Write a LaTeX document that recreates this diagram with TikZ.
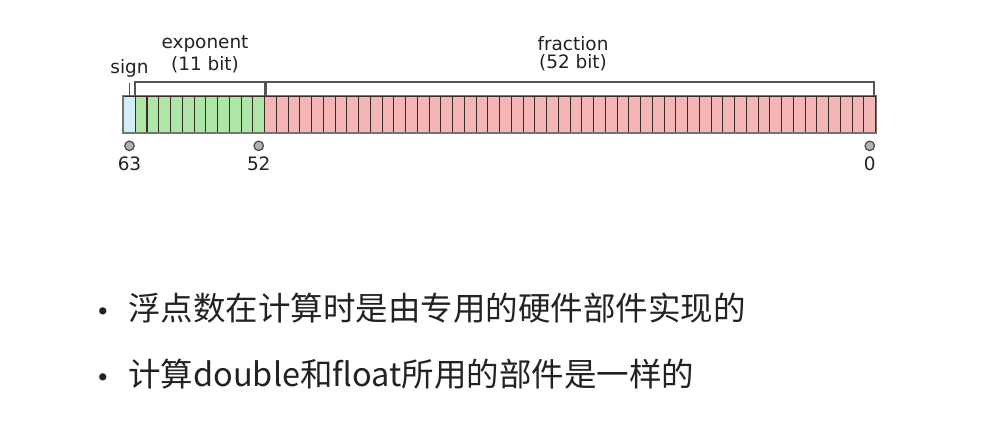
\documentclass[tikz,border=0pt]{standalone}
\usepackage{fontspec}
\setmainfont{DejaVu Sans}
\newfontfamily\cjk{Noto Sans CJK SC}
\usetikzlibrary{positioning,calc}
\definecolor{signblue}{HTML}{D2EEF8}
\definecolor{expgreen}{HTML}{AEE6A6}
\definecolor{fracred}{HTML}{F4B6B4}
\definecolor{cellline}{HTML}{3A2A2A}
\definecolor{bracketgray}{HTML}{555555}
\definecolor{textgray}{HTML}{222222}
\tikzset{
  bitcell/.style = {draw = cellline, line width = .7pt, inner sep = 0,
    minimum width = .235cm, minimum height = .72cm, anchor = south west},
  bitdot/.style = {circle, draw = black!70, fill = black!30, line width = .7pt,
    inner sep = 0, minimum size = .19cm},
  smalllabel/.style = {font = \fontsize{10.5}{12}\selectfont, text = textgray, inner sep = 1pt},
  bracket/.style = {draw = bracketgray, line width = .9pt},
  bulletline/.style = {font = \cjk\fontsize{18.5}{22}\selectfont, text = textgray, anchor = west, inner sep = 0},
  bulletdot/.style = {font = \fontsize{14}{16}\selectfont, text = textgray, anchor = base, inner sep = 0}
}

\begin{document}
\begin{tikzpicture}[x = .02cm, y = .02cm]
    \useasboundingbox (0,0) rectangle (1000,432);
    % bit cells
    \node[bitcell, fill = signblue] (b63) at (123,299) {};
    \foreach \i in {52,...,62}
        \node[bitcell, fill = expgreen] (b\i) at ({123+(63-\i)*11.75},299) {};
    \foreach \i in {0,...,51}
        \node[bitcell, fill = fracred] (b\i) at ({123+(63-\i)*11.75},299) {};
    \draw[draw = black!55, line width = .7pt] (b63.south west) rectangle (b0.north east);
    % brackets
    \coordinate (stop) at ($(b63.north)+(0,13)$);
    \draw[bracket] (b63.north) -- (stop);
    \draw[bracket] (b62.north west) -- ++(0,14) -| (b52.north east);
    \draw[bracket] ($(b51.north west)+(2,0)$) -- ++(0,14) -| ($(b0.north east)+(-2,0)$);
    % labels
    \node[smalllabel, above = 2pt of stop] (sign) {sign};
    \node[smalllabel] (expbits) at (205,367) {(11 bit)};
    \node[smalllabel, above = 0pt of expbits] (exp) {exponent};
    \node[smalllabel] (fracbits) at (573,369) {(52 bit)};
    \node[smalllabel, above = 0pt of fracbits] (frac) {fraction};
    % bit positions
    \foreach \i in {63,52,0} {
        \node[bitdot, below = .15cm of b\i] (d\i) {};
        \node[smalllabel, below = 2pt of d\i] (n\i) {\i};
    }
    % bullets
    \node[bulletline] (t1) at (128,124) {浮点数在计算时是由专用的硬件部件实现的};
    \node[bulletline] (t2) at (128,58) {计算double和float所用的部件是一样的};
    \node[bulletdot] (p1) at ($(t1.base west)+(-25,0)$) {•};
    \node[bulletdot] (p2) at ($(t2.base west)+(-25,0)$) {•};
\end{tikzpicture}
\end{document}
